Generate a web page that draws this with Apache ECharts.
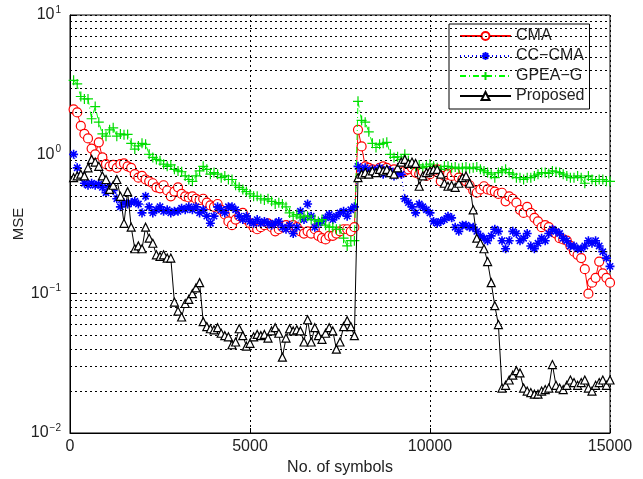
<!DOCTYPE html>
<html><head><meta charset="utf-8">
<script src="https://cdn.jsdelivr.net/npm/echarts@6/dist/echarts.min.js"></script>
<style>html,body{margin:0;padding:0;background:#fff}#c{width:643px;height:479px}</style>
</head><body><div id="c"></div>
<script>
// symbol index i -> i*100 symbols
const symbols = Array.from({length:150}, (_, k) => (k + 1) * 100);
const xTicks = [0, 5000, 10000, 15000];
const yTicks = [0.01, 0.1, 1, 10];
const seriesNames = ['CMA', 'CC\u2212CMA', 'GPEA\u2212G', 'Proposed'];

const cma = [2.1,2.0,1.6,1.4,1.3,1.1,1.0,1.22,0.95,0.85,
0.82,0.84,0.8,0.85,0.86,0.82,0.8,0.72,0.68,0.7,
0.66,0.64,0.62,0.58,0.57,0.6,0.55,0.5,0.54,0.58,
0.52,0.5,0.49,0.5,0.48,0.47,0.48,0.45,0.43,0.42,
0.44,0.4,0.37,0.33,0.31,0.34,0.36,0.38,0.34,0.32,
0.3,0.29,0.3,0.31,0.32,0.3,0.28,0.29,0.3,0.31,
0.3,0.31,0.3,0.28,0.27,0.28,0.27,0.29,0.26,0.25,
0.245,0.26,0.26,0.27,0.28,0.29,0.29,0.28,0.3,1.5,
1.14,0.82,0.8,0.78,0.76,0.8,0.82,0.8,0.76,0.78,
0.75,0.74,0.76,0.78,0.8,0.74,0.72,0.75,0.7,0.72,
0.76,0.78,0.64,0.7,0.72,0.7,0.74,0.68,0.66,0.64,
0.6,0.55,0.53,0.56,0.59,0.56,0.55,0.54,0.52,0.53,
0.46,0.5,0.48,0.45,0.4,0.38,0.42,0.38,0.35,0.33,
0.3,0.31,0.3,0.28,0.27,0.25,0.245,0.24,0.22,0.2,
0.19,0.18,0.15,0.1,0.12,0.13,0.17,0.14,0.13,0.12];

const ccCma = [1.0,0.8,0.7,0.62,0.6,0.62,0.6,0.61,0.58,0.53,
0.59,0.55,0.48,0.42,0.45,0.44,0.45,0.46,0.44,0.38,
0.5,0.42,0.38,0.4,0.42,0.39,0.4,0.38,0.39,0.39,
0.41,0.4,0.42,0.4,0.42,0.38,0.4,0.36,0.32,0.36,
0.42,0.4,0.38,0.42,0.42,0.4,0.36,0.34,0.36,0.33,
0.32,0.34,0.32,0.33,0.32,0.31,0.32,0.33,0.3,0.29,
0.31,0.27,0.3,0.39,0.34,0.44,0.36,0.3,0.32,0.33,
0.35,0.37,0.34,0.36,0.38,0.39,0.36,0.4,0.42,0.82,
0.76,0.8,0.74,0.78,0.76,0.8,0.72,0.78,0.76,0.7,
0.74,0.72,0.48,0.45,0.42,0.38,0.44,0.42,0.4,0.38,
0.33,0.32,0.33,0.34,0.36,0.35,0.3,0.28,0.31,0.31,
0.3,0.3,0.28,0.26,0.25,0.24,0.26,0.29,0.28,0.24,
0.21,0.24,0.28,0.27,0.24,0.25,0.27,0.22,0.21,0.23,
0.25,0.24,0.27,0.29,0.28,0.27,0.25,0.24,0.22,0.22,
0.21,0.21,0.22,0.24,0.23,0.24,0.22,0.2,0.18,0.157];

const gpeaG = [3.4,3.2,2.6,2.5,2.5,1.8,2.2,1.7,1.4,1.35,
1.5,1.55,1.35,1.4,1.38,1.39,1.2,1.09,1.15,1.2,
1.18,1.0,0.95,0.92,0.9,0.85,0.82,0.84,0.78,0.76,
0.75,0.7,0.66,0.64,0.7,0.76,0.82,0.78,0.72,0.74,
0.72,0.68,0.7,0.66,0.66,0.6,0.58,0.56,0.54,0.52,
0.5,0.5,0.48,0.47,0.48,0.46,0.44,0.45,0.44,0.42,
0.38,0.36,0.37,0.35,0.36,0.36,0.34,0.34,0.33,0.34,
0.31,0.3,0.3,0.29,0.29,0.25,0.22,0.24,0.24,2.4,
1.75,1.7,1.45,1.2,1.12,1.18,1.2,1.22,1.0,0.95,
0.96,0.92,1.0,0.9,0.85,0.82,0.84,0.8,0.82,0.85,
0.82,0.8,0.78,0.82,0.82,0.8,0.81,0.79,0.8,0.81,
0.79,0.8,0.81,0.78,0.76,0.74,0.72,0.68,0.74,0.76,
0.78,0.74,0.72,0.68,0.68,0.66,0.68,0.68,0.7,0.72,
0.74,0.74,0.73,0.76,0.75,0.74,0.72,0.7,0.68,0.68,
0.7,0.68,0.62,0.7,0.66,0.64,0.66,0.66,0.64,0.64];

const proposed = [0.68,0.7,0.72,0.7,0.8,0.92,0.88,0.82,0.7,0.66,
0.56,0.6,0.66,0.5,0.32,0.54,0.3,0.21,0.22,0.21,
0.3,0.25,0.23,0.19,0.185,0.19,0.18,0.18,0.087,0.075,
0.068,0.085,0.091,0.1,0.11,0.12,0.063,0.058,0.056,0.055,
0.057,0.052,0.05,0.049,0.043,0.045,0.056,0.05,0.042,0.044,
0.049,0.051,0.05,0.051,0.048,0.054,0.057,0.052,0.035,0.048,
0.056,0.054,0.055,0.054,0.045,0.065,0.045,0.057,0.05,0.047,
0.052,0.057,0.054,0.04,0.045,0.058,0.064,0.058,0.05,0.68,
0.72,0.74,0.72,0.76,0.74,0.78,0.76,0.78,0.74,0.72,
0.8,0.88,0.92,0.86,0.88,0.86,0.59,0.7,0.74,0.76,
0.78,0.78,0.72,0.62,0.59,0.6,0.58,0.62,0.68,0.7,
0.62,0.4,0.25,0.23,0.21,0.17,0.12,0.082,0.06,0.021,
0.022,0.024,0.026,0.028,0.027,0.021,0.02,0.0195,0.019,0.019,
0.02,0.0205,0.021,0.031,0.022,0.021,0.0205,0.022,0.024,0.023,
0.022,0.023,0.024,0.021,0.02,0.022,0.023,0.024,0.022,0.024];

const minorGrid = [];
[0.01, 0.1, 1].forEach(d => { for (let m = 2; m <= 9; m++) minorGrid.push(+(d * m).toPrecision(3)); });

const pair = arr => symbols.map((s, k) => [s, arr[k]]);
const chart = echarts.init(document.getElementById('c'), null, {renderer: 'canvas'});
const FONT = 'Liberation Sans, Arial, sans-serif';
const dotted = {color: '#000', width: 1, type: [2, 3]};
const starPath = 'path://M5,0L5,10M0,5L10,5M1.5,1.5L8.5,8.5M1.5,8.5L8.5,1.5';
const plusPath = 'path://M5,0L5,10M0,5L10,5';
const supFmt = v => {
  const e = Math.round(Math.log10(v));
  return '{b|10}{s|' + (e < 0 ? '\u2212' + (-e) : e) + '}';
};

chart.setOption({
  animation: false,
  backgroundColor: '#fff',
  grid: {left: 70, right: 33, top: 15, bottom: 46, show: true, borderColor: '#000', borderWidth: 1,
    containLabel: false, outerBoundsMode: 'none'},
  legend: {
    orient: 'vertical', left: 449, top: 24,
    data: seriesNames,
    itemWidth: 51, itemHeight: 10, itemGap: 4,
    backgroundColor: '#fff', borderColor: '#000', borderWidth: 1, borderRadius: 0,
    padding: [4, 5, 5, 10],
    textStyle: {fontFamily: FONT, fontSize: 16, lineHeight: 16, color: '#222'}
  },
  xAxis: {
    type: 'value', min: 0, max: 15000, interval: 5000,
    name: 'No. of symbols', nameLocation: 'middle', nameGap: 27, nameMoveOverlap: false,
    nameTextStyle: {fontFamily: FONT, fontSize: 16, color: '#222'},
    axisLine: {lineStyle: {color: '#000'}},
    axisTick: {inside: true, length: 5, lineStyle: {color: '#000'}},
    axisLabel: {fontFamily: FONT, fontSize: 16, color: '#222', margin: 6,
      formatter: v => xTicks.includes(v) ? String(v) : ''},
    splitLine: {show: true, lineStyle: dotted}
  },
  yAxis: {
    type: 'log', logBase: 10, min: 0.01, max: 10,
    name: 'MSE', nameLocation: 'middle', nameGap: 44, nameMoveOverlap: false,
    nameTextStyle: {fontFamily: FONT, fontSize: 15, color: '#222'},
    axisLine: {lineStyle: {color: '#000'}},
    axisTick: {inside: true, length: 5, lineStyle: {color: '#000'}},
    axisLabel: {
      formatter: v => yTicks.some(t => Math.abs(t - v) / t < 1e-6) ? supFmt(v) : '',
      margin: 9,
      rich: {
        b: {fontFamily: FONT, fontSize: 16, color: '#222'},
        s: {fontFamily: FONT, fontSize: 10, color: '#222', verticalAlign: 'top', padding: [0, 0, 10, 1]}
      }
    },
    splitLine: {show: true, lineStyle: dotted}
  },
  series: [
    {
      name: 'gridlines', type: 'line', data: [], silent: true,
      markLine: {silent: true, symbol: 'none', label: {show: false},
        lineStyle: dotted, animation: false,
        data: minorGrid.map(v => ({yAxis: v}))}
    },
    {
      name: 'CMA', type: 'line', data: pair(cma), z: 3,
      symbol: 'circle', symbolSize: 9, showAllSymbol: true,
      lineStyle: {color: '#ff0000', width: 1},
      itemStyle: {color: '#fff', borderColor: '#ff0000', borderWidth: 1.2}
    },
    {
      name: 'CC\u2212CMA', type: 'line', data: pair(ccCma), z: 4,
      symbol: starPath, symbolSize: 9, showAllSymbol: true,
      lineStyle: {color: '#0000ff', width: 1, type: [1, 3]},
      itemStyle: {color: 'none', borderColor: '#0000ff', borderWidth: 1.6}
    },
    {
      name: 'GPEA\u2212G', type: 'line', data: pair(gpeaG), z: 5,
      symbol: plusPath, symbolSize: 10, showAllSymbol: true,
      lineStyle: {color: '#00ff00', width: 1, type: [6, 3, 1, 3]},
      itemStyle: {color: 'none', borderColor: '#00dd00', borderWidth: 1.2}
    },
    {
      name: 'Proposed', type: 'line', data: pair(proposed), z: 6,
      symbol: 'triangle', symbolSize: 8, showAllSymbol: true,
      lineStyle: {color: '#000', width: 1},
      itemStyle: {color: '#fff', borderColor: '#000', borderWidth: 1.2}
    }
  ]
});
</script>
</body></html>
